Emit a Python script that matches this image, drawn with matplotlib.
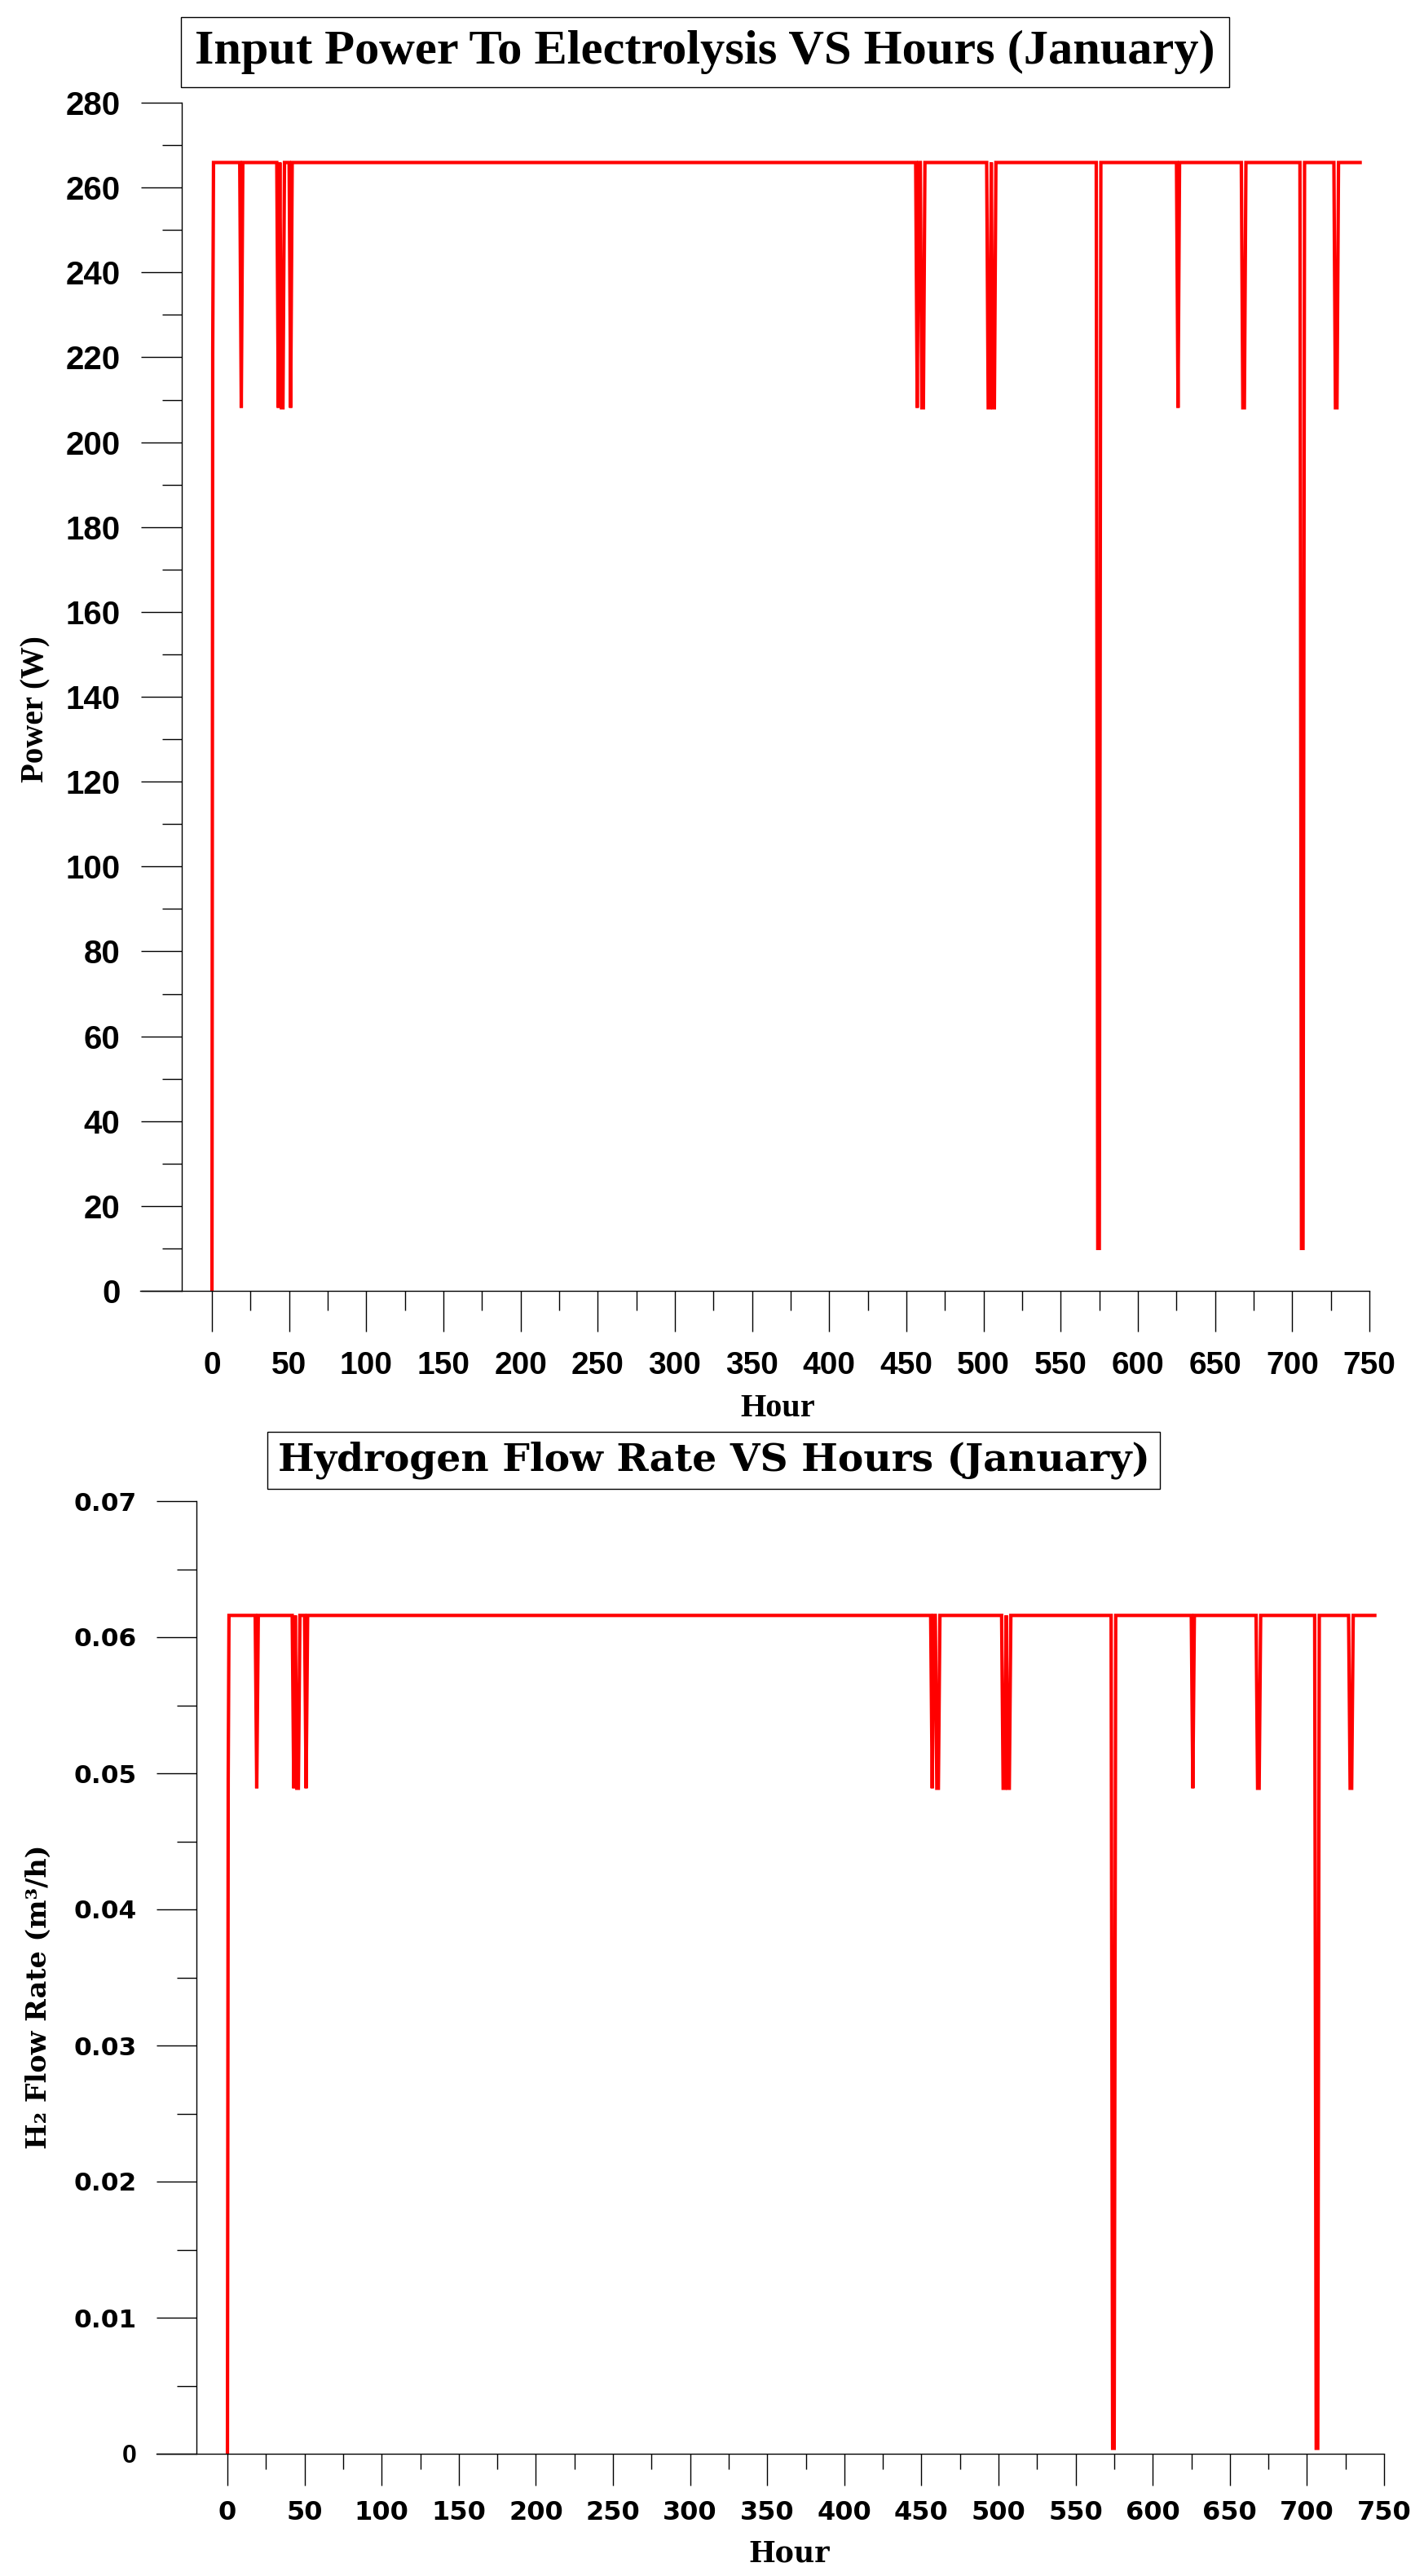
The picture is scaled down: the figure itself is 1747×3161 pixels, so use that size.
import matplotlib
matplotlib.use("Agg")
import matplotlib.pyplot as plt
from matplotlib.patches import Rectangle

W, H = 1747, 3161
DPI = 100

# hour points where the curves change
hours = [0, 0.5, 1, 18, 19, 20, 42, 43, 44, 45, 46, 47, 50, 51, 52,
         456, 457, 458, 459, 460, 461, 462,
         502, 503, 504, 505, 506, 507, 508,
         573, 574, 575, 576, 625, 626, 627, 667, 668, 669, 670,
         705, 706, 707, 708, 727, 728, 729, 730, 744]

# input power to electrolysis (W)
power = [0, 221, 265.9, 265.9, 208.1, 265.9,
         265.9, 208.1, 265.9, 208.1, 208.1, 265.9,
         265.9, 208.1, 265.9,
         265.9, 208.1, 265.9, 265.9, 208.1, 208.1, 265.9,
         265.9, 208.1, 208.1, 265.9, 208.1, 208.1, 265.9,
         265.9, 10, 10, 265.9,
         265.9, 208.1, 265.9,
         265.9, 208.1, 208.1, 265.9,
         265.9, 10, 10, 265.9,
         265.9, 208.1, 208.1, 265.9,
         265.9]

# hydrogen flow rate (m3/h)
flow = [0, 0.0496, 0.0616, 0.0616, 0.0489, 0.0616,
        0.0616, 0.0489, 0.0616, 0.0489, 0.0489, 0.0616,
        0.0616, 0.0489, 0.0616,
        0.0616, 0.0489, 0.0616, 0.0616, 0.0489, 0.0489, 0.0616,
        0.0616, 0.0489, 0.0489, 0.0616, 0.0489, 0.0489, 0.0616,
        0.0616, 0.0004, 0.0004, 0.0616,
        0.0616, 0.0489, 0.0616,
        0.0616, 0.0489, 0.0489, 0.0616,
        0.0616, 0.0004, 0.0004, 0.0616,
        0.0616, 0.0489, 0.0489, 0.0616,
        0.0616]

x_ticks = list(range(0, 751, 50))
x_minor = list(range(25, 750, 50))
power_ticks = list(range(0, 281, 20))
power_minor = list(range(10, 280, 20))
flow_ticks = [0, 0.01, 0.02, 0.03, 0.04, 0.05, 0.06, 0.07]
flow_labels = ["0", "0.01", "0.02", "0.03", "0.04", "0.05", "0.06", "0.07"]
flow_minor = [0.005, 0.015, 0.025, 0.035, 0.045, 0.055, 0.065]

SERIF = ["Liberation Serif", "DejaVu Serif"]
SANS = ["Liberation Sans", "DejaVu Sans"]
WIDE_SERIF = ["DejaVu Serif"]
WIDE_SANS = ["DejaVu Sans"]

fig = plt.figure(figsize=(W / DPI, H / DPI), dpi=DPI)
fig.patch.set_facecolor("white")


def px_axes(left, top, right, bottom):
    # axes box given in picture pixels
    return fig.add_axes([left / W, (H - bottom) / H, (right - left) / W, (bottom - top) / H])


def style_axes(ax, yaxis_at, xlen, ylen):
    for s in ["top", "right"]:
        ax.spines[s].set_visible(False)
    ax.spines["left"].set_position(("data", yaxis_at))
    ax.spines["left"].set_linewidth(1.0)
    ax.spines["bottom"].set_linewidth(1.0)
    ax.tick_params(axis="x", which="major", direction="out", length=xlen[0], width=1.0)
    ax.tick_params(axis="x", which="minor", direction="out", length=xlen[1], width=1.0)
    ax.tick_params(axis="y", which="major", direction="out", length=ylen[0], width=1.0)
    ax.tick_params(axis="y", which="minor", direction="out", length=ylen[1], width=1.0)
    ax.set_xticks(x_ticks)
    ax.set_xticks(x_minor, minor=True)


def title_box(x0, y0, x1, y1, text, family, size):
    fig.add_artist(Rectangle((x0 / W, (H - y1) / H), (x1 - x0) / W, (y1 - y0) / H,
                             transform=fig.transFigure, facecolor="white",
                             edgecolor="black", linewidth=1.0))
    fig.text((x0 + x1) / 2 / W, 1 - (y0 + y1) / 2 / H, text, ha="center", va="center",
             family=family, fontweight="bold", fontsize=size)


# top chart: power
ax1 = px_axes(172, 126, 1680, 1584)
ax1.plot(hours, power, color="red", linewidth=3.0, solid_joinstyle="miter")
ax1.set_xlim(-46.5, 750)
ax1.set_ylim(0, 280)
style_axes(ax1, -19.8, (36, 17.6), (36, 17.6))
ax1.set_yticks(power_ticks)
ax1.set_yticks(power_minor, minor=True)
ax1.tick_params(axis="y", pad=18)
ax1.tick_params(axis="x", pad=17)
for lab in ax1.get_yticklabels():
    lab.set_family(SANS)
    lab.set_fontweight("bold")
    lab.set_fontsize(29)
for lab in ax1.get_xticklabels():
    lab.set_family(SANS)
    lab.set_fontweight("bold")
    lab.set_fontsize(28)

title_box(222, 21, 1508, 107, "Input Power To Electrolysis VS Hours (January)", SERIF, 43.5)
fig.text(44 / W, 1 - 870 / H, "Power (W)", rotation=90, ha="center", va="center",
         family=SERIF, fontweight="bold", fontsize=28)
fig.text(954 / W, 1 - 1729 / H, "Hour", ha="center", va="center",
         family=SERIF, fontweight="bold", fontsize=29)

# bottom chart: hydrogen flow rate
ax2 = px_axes(192, 1842, 1698, 3011)
ax2.plot(hours, flow, color="red", linewidth=3.0, solid_joinstyle="miter")
ax2.set_xlim(-46, 750)
ax2.set_ylim(0, 0.07)
style_axes(ax2, -20.1, (28, 13.7), (35, 17.3))
ax2.set_yticks(flow_ticks, flow_labels)
ax2.set_yticks(flow_minor, minor=True)
ax2.tick_params(axis="y", pad=18)
ax2.tick_params(axis="x", pad=13)
for i, lab in enumerate(ax2.get_yticklabels()):
    lab.set_fontweight("bold")
    if i == 0:
        lab.set_family(SANS)
        lab.set_fontsize(23)
    else:
        lab.set_family(WIDE_SANS)
        lab.set_fontsize(22.5)
for lab in ax2.get_xticklabels():
    lab.set_family(WIDE_SANS)
    lab.set_fontweight("bold")
    lab.set_fontsize(23)

title_box(328, 1757, 1423, 1827, "Hydrogen Flow Rate VS Hours (January)", WIDE_SERIF, 34)
fig.text(47 / W, 1 - 2450 / H, "H\u2082 Flow Rate (m\u00b3/h)", rotation=90, ha="center",
         va="center", family=WIDE_SERIF, fontweight="bold", fontsize=24)
fig.text(968 / W, 1 - 3134 / H, "Hour", ha="center", va="center",
         family=WIDE_SERIF, fontweight="bold", fontsize=25)

fig.savefig("out.png", dpi=DPI, facecolor="white")
